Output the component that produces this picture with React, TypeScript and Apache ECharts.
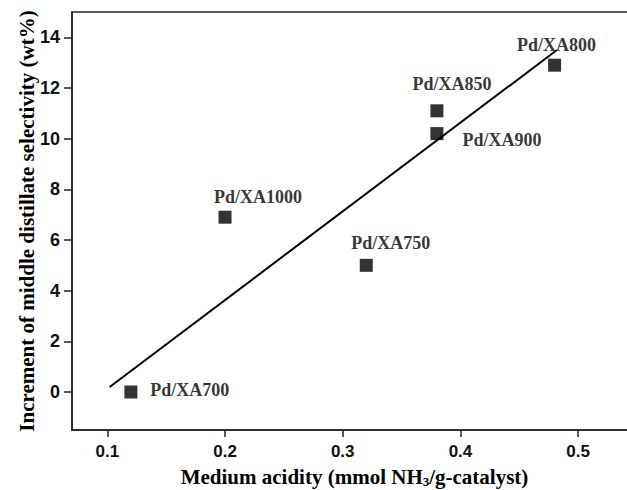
import React, { useEffect, useRef } from "react";
import * as echarts from "echarts";

const sampleNames = ["Pd/XA700", "Pd/XA1000", "Pd/XA750", "Pd/XA850", "Pd/XA900", "Pd/XA800"];
const acidity = [0.12, 0.2, 0.32, 0.38, 0.38, 0.48];
const selectivityIncrement = [0, 6.9, 5.0, 11.1, 10.2, 12.9];
const fitLineX = [0.102, 0.482];
const fitLineY = [0.2, 13.5];
const xTicks = [0.1, 0.2, 0.3, 0.4, 0.5];
const yTicks = [0, 2, 4, 6, 8, 10, 12, 14];

// label placement (styling), same order as sampleNames
const labelOffsets: [number, number][] = [
  [59, -2],
  [33, -20.5],
  [24.5, -22],
  [15, -27],
  [65, 6],
  [2, -20.5],
];

export default function App() {
  const ref = useRef<HTMLDivElement>(null);
  useEffect(() => {
    if (!ref.current) return;
    const chart = echarts.init(ref.current, null, { renderer: "svg" });
    const axisColor = "#222";
    const serif = "'Liberation Serif', 'Times New Roman', serif";
    const sans = "'Liberation Sans', Arial, sans-serif";
    chart.setOption({
      animation: false,
      backgroundColor: "#fff",
      grid: {
        left: 72,
        top: 12,
        right: -10,
        bottom: 60,
        containLabel: false,
        outerBoundsMode: "none",
        show: true,
        borderColor: axisColor,
        borderWidth: 1.5,
        backgroundColor: "transparent",
      },
      xAxis: {
        type: "value",
        min: 0.07,
        max: 0.55,
        name: "Medium acidity (mmol NH{sub|3}/g-catalyst)",
        nameLocation: "middle",
        nameGap: 35,
        nameMoveOverlap: false,
        nameTextStyle: {
          fontFamily: serif,
          fontWeight: "bold",
          fontSize: 21,
          color: "#000",
          rich: {
            sub: {
              fontFamily: serif,
              fontWeight: "bold",
              fontSize: 13,
              color: "#000",
              padding: [10, 0, 0, 0],
            },
          },
        },
        axisLine: { show: true, onZero: false, lineStyle: { color: axisColor, width: 1.5 } },
        axisTick: {
          show: true,
          length: 7,
          customValues: xTicks,
          lineStyle: { color: axisColor, width: 1.5 },
        },
        axisLabel: {
          customValues: xTicks,
          margin: 13,
          fontFamily: sans,
          fontWeight: "bold",
          fontSize: 17,
          color: "#111",
          formatter: (v: number) => v.toFixed(1),
        },
        splitLine: { show: false },
      },
      yAxis: {
        type: "value",
        min: -1.5,
        max: 15,
        name: "Increment of middle distillate selectivity (wt%)",
        nameLocation: "middle",
        nameGap: 35,
        nameMoveOverlap: false,
        nameTextStyle: {
          fontFamily: serif,
          fontWeight: "bold",
          fontSize: 21,
          color: "#000",
        },
        axisLine: { show: true, onZero: false, lineStyle: { color: axisColor, width: 1.5 } },
        axisTick: {
          show: true,
          length: 8,
          customValues: yTicks,
          lineStyle: { color: axisColor, width: 1.5 },
        },
        axisLabel: {
          customValues: yTicks,
          margin: 12,
          fontFamily: sans,
          fontWeight: "bold",
          fontSize: 18,
          color: "#111",
        },
        splitLine: { show: false },
      },
      series: [
        {
          type: "line",
          data: fitLineX.map((x, i) => [x, fitLineY[i]]),
          showSymbol: false,
          symbol: "none",
          lineStyle: { color: "#000", width: 2 },
          z: 2,
        },
        {
          type: "scatter",
          symbol: "rect",
          symbolSize: 13,
          itemStyle: { color: "#000" },
          z: 3,
          data: sampleNames.map((name, i) => ({
            name,
            value: [acidity[i], selectivityIncrement[i]],
            label: {
              show: true,
              position: "inside",
              offset: labelOffsets[i],
              formatter: name,
              fontFamily: serif,
              fontWeight: "bold",
              fontSize: 18,
              color: "#000",
              align: "center",
              verticalAlign: "middle",
            },
          })),
        },
      ],
    });
    return () => chart.dispose();
  }, []);
  return (
    <div
      ref={ref}
      style={{ position: "fixed", left: 0, top: 0, width: 627, height: 490, background: "#fff" }}
    />
  );
}
